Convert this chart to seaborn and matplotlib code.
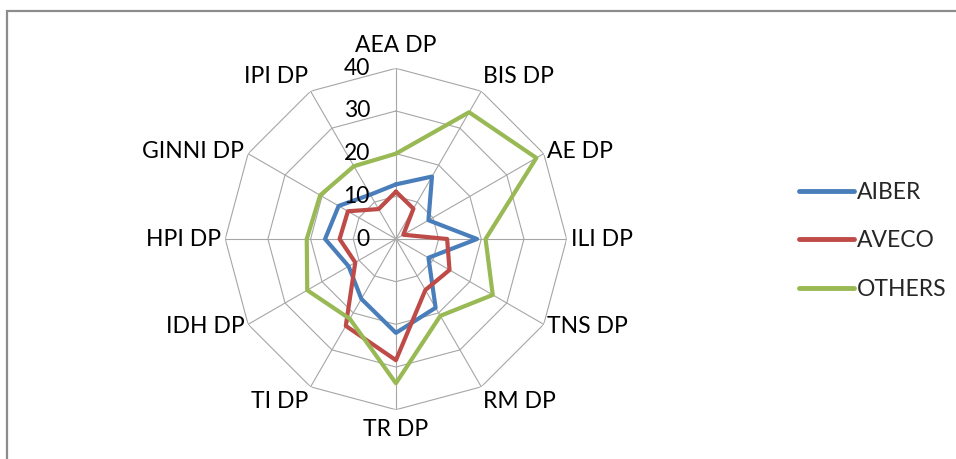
import numpy as np
import pandas as pd
import seaborn as sns
import matplotlib.pyplot as plt
from matplotlib.transforms import offset_copy
from matplotlib.lines import Line2D

# categories, clockwise from the top
categories = ['AEA DP', 'BIS DP', 'AE DP', 'ILI DP', 'TNS DP', 'RM DP',
              'TR DP', 'TI DP', 'IDH DP', 'HPI DP', 'GINNI DP', 'IPI DP']

# values
aiber = [12.8, 16.9, 8.8, 19, 8.8, 18.6, 22, 16.2, 12.8, 16.6, 15.5, 12]
aveco = [11.1, 8.2, 2, 12, 14.5, 13.8, 28.4, 23.5, 11, 13.2, 13, 8.1]
others = [20, 34.3, 38, 21, 26.2, 20.8, 33.8, 21.6, 24, 20.9, 20.5, 19.7]

series_names = ['AIBER', 'AVECO', 'OTHERS']
series_colors = ['#4A7EBB', '#BE4B48', '#98B954']
ring_ticks = [0, 10, 20, 30, 40]

sns.set_theme(style='white')
plt.rcParams['font.family'] = ['Lato', 'DejaVu Sans']

n = len(categories)
theta = np.linspace(0, 2 * np.pi, n, endpoint=False)
theta_closed = np.append(theta, 2 * np.pi)

rows = []
for name, vals in zip(series_names, [aiber, aveco, others]):
    closed = list(vals) + [vals[0]]
    for t, v in zip(theta_closed, closed):
        rows.append({'theta': t, 'value': v, 'series': name})
df = pd.DataFrame(rows)

fig = plt.figure(figsize=(9.56, 4.59), dpi=100)
ax = fig.add_axes([0.2356, 0.1074, 0.3571, 0.7438], projection='polar')
ax.set_theta_offset(np.pi / 2)
ax.set_theta_direction(-1)
ax.set_ylim(0, 40)
ax.grid(False)
ax.spines['polar'].set_visible(False)

# polygon grid like excel
grid_color = '#A6A6A6'
for r in ring_ticks[1:]:
    ax.plot(theta_closed, [r] * (n + 1), color=grid_color, lw=0.8, zorder=1)
for t in theta:
    ax.plot([t, t], [0, 40], color=grid_color, lw=0.8, zorder=1)

sns.lineplot(data=df, x='theta', y='value', hue='series', palette=series_colors,
             sort=False, estimator=None, lw=3, ax=ax, legend=False, zorder=3)
ax.set_xlabel('')
ax.set_ylabel('')
ax.set_xticks([])
ax.set_yticks([])

# category labels
fs = 16.5
for t, lab in zip(theta, categories):
    s = np.sin(t)
    c = np.cos(t)
    if abs(s) < 0.1:
        ha = 'center'
        r = 43 if c > 0 else 42.2
        va = 'bottom' if c > 0 else 'top'
    else:
        ha = 'left' if s > 0 else 'right'
        r = 41
        if c > 0.7:
            va = 'bottom'
        elif c < -0.7:
            va = 'top'
        else:
            va = 'center'
    ax.text(t, r, lab, ha=ha, va=va, fontsize=fs, color='#000000')

# radial value labels
tr = offset_copy(ax.transData, fig=fig, x=-26, y=0, units='dots')
for v in ring_ticks:
    ax.text(0, v, str(v), transform=tr, ha='right', va='center',
            fontsize=fs, color='#000000')

handles = [Line2D([0], [0], color=c, lw=3.5) for c in series_colors]
fig.legend(handles, series_names, loc='center left',
           bbox_to_anchor=(0.814, 0.475), frameon=False, fontsize=fs,
           handlelength=2.4, handletextpad=0.12, labelspacing=1.2)

# outer chart frame
fig.patches.append(plt.Rectangle((7 / 956, -0.05), 1.2, 1.05 - 11 / 459,
                                 transform=fig.transFigure, fill=False,
                                 edgecolor='#8C8C8C', lw=1.6))

fig.savefig('out.png', dpi=100)
